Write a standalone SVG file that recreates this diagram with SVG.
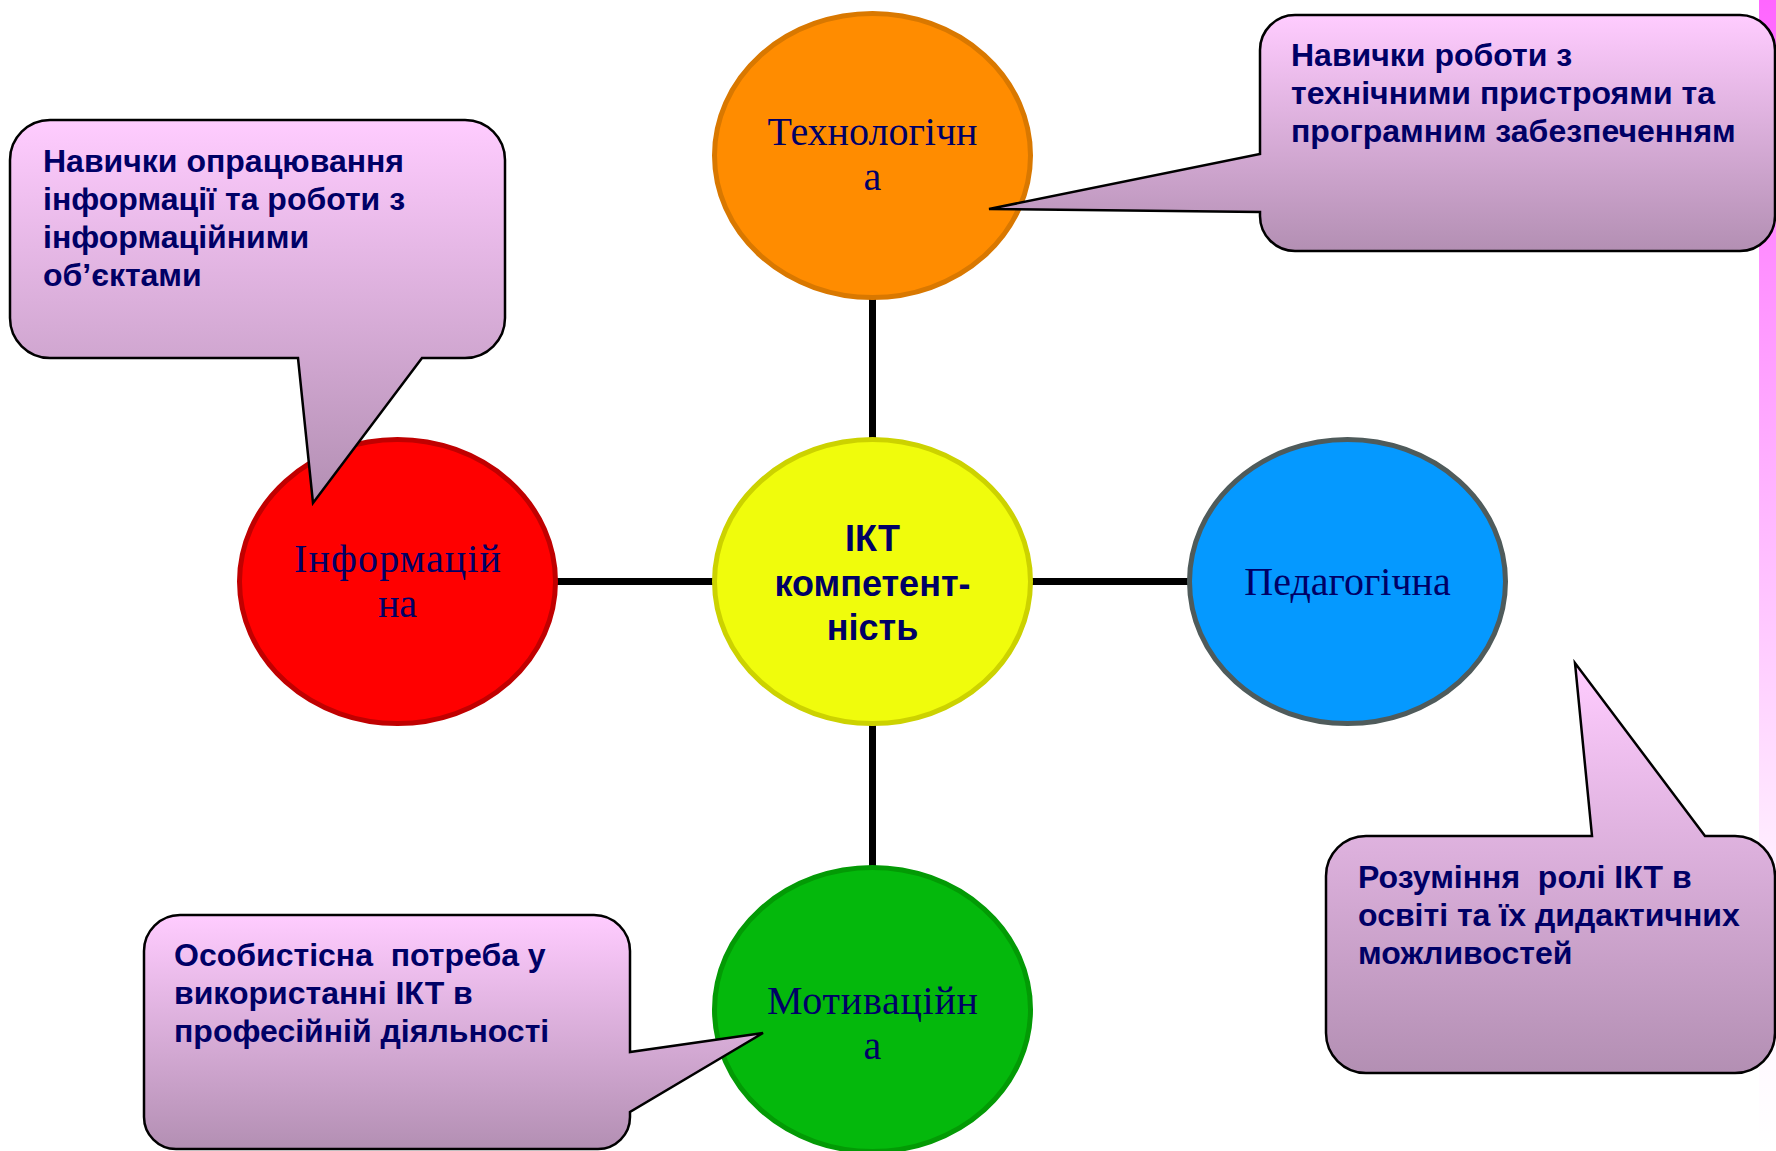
<svg xmlns="http://www.w3.org/2000/svg" width="1776" height="1151" viewBox="0 0 1776 1151">
<defs>
<linearGradient id="callGrad" x1="0" y1="0" x2="0" y2="1">
<stop offset="0" stop-color="#FFCCFF"/>
<stop offset="1" stop-color="#B38FB3"/>
</linearGradient>
<linearGradient id="stripeGrad" x1="0" y1="0" x2="0" y2="1">
<stop offset="0" stop-color="#FF66FF"/>
<stop offset="0.75" stop-color="#FFEEFF"/>
<stop offset="1" stop-color="#FFFFFF"/>
</linearGradient>
</defs>
<style>
.call{fill:url(#callGrad);stroke:#000;stroke-width:2.5;stroke-linejoin:miter}
.ctext{font-family:"Liberation Sans",Arial,sans-serif;font-weight:bold;font-size:32px;fill:#000066}
.etext{font-family:"Liberation Serif","Times New Roman",serif;font-size:40px;fill:#000066;text-anchor:middle}
.ctr{font-family:"Liberation Sans",Arial,sans-serif;font-weight:bold;font-size:36px;fill:#000066;text-anchor:middle}
.conn{stroke:#000;stroke-width:7;fill:none}
</style>
<rect x="0" y="0" width="1776" height="1151" fill="#FFFFFF"/>
<rect x="1759" y="0" width="17" height="1151" fill="url(#stripeGrad)"/>

<g id="connectors">
<line class="conn" x1="872.5" y1="298" x2="872.5" y2="439"/>
<line class="conn" x1="556" y1="581.5" x2="714" y2="581.5"/>
<line class="conn" x1="1031" y1="581.5" x2="1189" y2="581.5"/>
<line class="conn" x1="872.5" y1="724" x2="872.5" y2="867"/>
</g>

<g id="node-tech">
<ellipse cx="872.5" cy="155.5" rx="158" ry="142" fill="#FF8C00" stroke="#D97800" stroke-width="5"/>
<text class="etext" x="872.5" y="145">Технологічн</text>
<text class="etext" x="872.5" y="190">а</text>
</g>

<g id="node-center">
<ellipse cx="872.5" cy="581.5" rx="158" ry="142" fill="#F0FC0C" stroke="#CCD200" stroke-width="5"/>
<text class="ctr" x="872.5" y="551">ІКТ</text>
<text class="ctr" x="872.5" y="596">компетент-</text>
<text class="ctr" x="872.5" y="640">ність</text>
</g>

<g id="node-info">
<ellipse cx="397.5" cy="581.5" rx="158" ry="142" fill="#FF0000" stroke="#C00000" stroke-width="5"/>
<text class="etext" x="397.5" y="572" textLength="207" lengthAdjust="spacing">Інформацій</text>
<text class="etext" x="397.5" y="617">на</text>
</g>

<g id="node-ped">
<ellipse cx="1347.5" cy="581.5" rx="158" ry="142" fill="#0599FF" stroke="#4F5B5B" stroke-width="5"/>
<text class="etext" x="1347.5" y="595">Педагогічна</text>
</g>

<g id="node-mot">
<ellipse cx="872.5" cy="1009.5" rx="158" ry="142" fill="#04B80C" stroke="#039A05" stroke-width="5"/>
<text class="etext" x="872.5" y="1014" textLength="211" lengthAdjust="spacing">Мотиваційн</text>
<text class="etext" x="872.5" y="1059">а</text>
</g>

<g id="callout-info">
<path class="call" d="M 50,120 H 465 A 40 40 0 0 1 505,160 V 318 A 40 40 0 0 1 465,358 H 422 L 313,503 L 298,358 H 50 A 40 40 0 0 1 10,318 V 160 A 40 40 0 0 1 50,120 Z"/>
<text class="ctext" x="43" y="172">Навички опрацювання</text>
<text class="ctext" x="43" y="210">інформації та роботи з</text>
<text class="ctext" x="43" y="248">інформаційними</text>
<text class="ctext" x="43" y="286">об’єктами</text>
</g>

<g id="callout-tech">
<path class="call" d="M 1295,15 H 1740 A 35 35 0 0 1 1775,50 V 216 A 35 35 0 0 1 1740,251 H 1295 A 35 35 0 0 1 1260,216 V 212 L 989,209 L 1260,154 V 50 A 35 35 0 0 1 1295,15 Z"/>
<text class="ctext" x="1291" y="66">Навички роботи з</text>
<text class="ctext" x="1291" y="104">технічними пристроями та</text>
<text class="ctext" x="1291" y="142">програмним забезпеченням</text>
</g>

<g id="callout-ped">
<path class="call" d="M 1366,836 H 1592 L 1575,663 L 1705,836 H 1735 A 40 40 0 0 1 1775,876 V 1033 A 40 40 0 0 1 1735,1073 H 1366 A 40 40 0 0 1 1326,1033 V 876 A 40 40 0 0 1 1366,836 Z"/>
<text class="ctext" x="1358" y="888" xml:space="preserve">Розуміння  ролі ІКТ в</text>
<text class="ctext" x="1358" y="926">освіті та їх дидактичних</text>
<text class="ctext" x="1358" y="964">можливостей</text>
</g>

<g id="callout-mot">
<path class="call" d="M 180,915 H 594 A 36 36 0 0 1 630,951 V 1052 L 763,1033 L 630,1112 V 1117 A 32 32 0 0 1 598,1149 H 176 A 32 32 0 0 1 144,1117 V 951 A 36 36 0 0 1 180,915 Z"/>
<text class="ctext" x="174" y="966" xml:space="preserve">Особистісна  потреба у</text>
<text class="ctext" x="174" y="1004">використанні ІКТ в</text>
<text class="ctext" x="174" y="1042">професійній діяльності</text>
</g>
</svg>
